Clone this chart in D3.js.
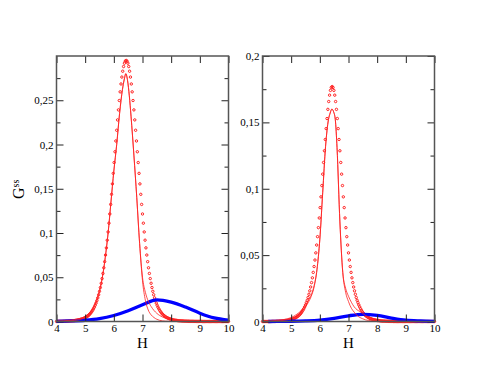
<!DOCTYPE html>
<html>
<head>
<meta charset="utf-8">
<script src="https://cdn.jsdelivr.net/npm/d3@7"></script>
<style>
body { margin: 0; background: #fff; }
svg text { font-family: "Liberation Serif", "Times New Roman", serif !important; }
</style>
</head>
<body>
<svg id="chart" width="491" height="379"></svg>
<script>
// circles are sampled on a regular H grid: 4, 4.03, 4.06 ... 10
var hCircStart = 4, hCircStep = 0.03;

var gssCircL = [
  .0001,.0001,.0001,.0002,.0002,.0002,.0002,.0002,.0003,.0003,
  .0003,.0004,.0004,.0004,.0005,.0006,.0006,.0007,.0008,.0008,
  .0009,.0010,.0012,.0013,.0014,.0016,.0018,.0020,.0023,.0026,
  .0029,.0032,.0037,.0041,.0046,.0052,.0059,.0067,.0076,.0086,
  .0098,.0111,.0126,.0143,.0162,.0184,.0208,.0236,.0267,.0302,
  .0341,.0384,.0432,.0485,.0543,.0607,.0676,.0751,.0832,.0919,
  .1012,.1111,.1215,.1323,.1437,.1555,.1674,.1796,.1918,.2040,
  .2161,.2278,.2391,.2497,.2595,.2684,.2762,.2828,.2881,.2919,
  .2942,.2950,.2942,.2919,.2881,.2828,.2762,.2684,.2595,.2497,
  .2391,.2278,.2161,.2040,.1918,.1796,.1674,.1555,.1437,.1323,
  .1215,.1111,.1012,.0919,.0832,.0751,.0676,.0607,.0543,.0485,
  .0432,.0384,.0341,.0302,.0267,.0236,.0208,.0184,.0162,.0143,
  .0126,.0111,.0098,.0086,.0076,.0067,.0059,.0052,.0046,.0041,
  .0037,.0032,.0029,.0026,.0023,.0020,.0018,.0016,.0014,.0013,
  .0012,.0010,.0009,.0008,.0008,.0007,.0006,.0006,.0005,.0004,
  .0004,.0004,.0003,.0003,.0003,.0002,.0002,.0002,.0002,.0002,
  .0001,.0001,.0001,.0001,.0001,.0001,.0001,.0001,.0001,.0001,
  0,0,0,0,0,0,0,0,0,0,
  0,0,0,0,0,0,0,0,0,0,
  0,0,0,0,0,0,0,0,0,0,
  0
];

var gssCircR = [
  0,0,0,0,0,0,0,0,0,0,
  0,.0001,.0001,.0001,.0001,.0001,.0002,.0002,.0002,.0002,
  .0003,.0003,.0003,.0004,.0004,.0005,.0006,.0007,.0007,.0008,
  .0010,.0011,.0012,.0014,.0016,.0018,.0021,.0023,.0027,.0030,
  .0034,.0039,.0044,.0050,.0057,.0065,.0074,.0085,.0096,.0110,
  .0125,.0142,.0160,.0181,.0205,.0231,.0260,.0293,.0329,.0370,
  .0414,.0463,.0517,.0576,.0639,.0707,.0780,.0858,.0939,.1024,
  .1110,.1198,.1286,.1371,.1453,.1529,.1598,.1657,.1705,.1741,
  .1763,.1770,.1763,.1741,.1705,.1657,.1598,.1529,.1453,.1371,
  .1286,.1198,.1110,.1024,.0939,.0858,.0780,.0707,.0639,.0576,
  .0517,.0463,.0414,.0370,.0329,.0293,.0260,.0231,.0205,.0181,
  .0160,.0142,.0125,.0110,.0096,.0085,.0074,.0065,.0057,.0050,
  .0044,.0039,.0034,.0030,.0027,.0023,.0021,.0018,.0016,.0014,
  .0012,.0011,.0010,.0008,.0007,.0007,.0006,.0005,.0004,.0004,
  .0003,.0003,.0003,.0002,.0002,.0002,.0002,.0001,.0001,.0001,
  .0001,.0001,0,0,0,0,0,0,0,0,
  0,0,0,0,0,0,0,0,0,0,
  0,0,0,0,0,0,0,0,0,0,
  0,0,0,0,0,0,0,0,0,0,
  0,0,0,0,0,0,0,0,0,0,
  0
];

// thin red curves
var hLine = [4, 4.25, 4.5, 4.75, 5, 5.2, 5.4, 5.5, 5.6, 5.7, 5.8, 5.9, 6, 6.1, 6.2, 6.3, 6.36, 6.42, 6.48, 6.54,
             6.6, 6.7, 6.8, 6.9, 7, 7.1, 7.2, 7.3, 7.4, 7.5, 7.6, 7.7, 7.8, 8, 8.25, 8.5, 9, 9.5, 10];

var gssLineAL = [.0002, .0004, .0008, .0018, .0045, .010, .023, .034, .050, .072, .100, .135, .170, .200, .235, .262, .273, .280, .272, .255,
                 .232, .188, .140, .088, .046, .024, .013, .0075, .0045, .0025, .0013, .0007, .0004, .0002, .0001, 0, 0, 0, 0];
var gssLineBL = [.0004, .0008, .0015, .003, .006, .012, .025, .035, .050, .072, .100, .135, .170, .200, .235, .262, .273, .280, .272, .255,
                 .232, .188, .140, .088, .050, .033, .023, .017, .0125, .0092, .0068, .005, .0037, .002, .001, .0005, .0002, .0001, 0];
var gssLineAR = [.0001, .0002, .0004, .0009, .002, .0042, .0085, .011, .0145, .019, .026, .039, .062, .097, .132, .152, .157, .160, .158, .152,
                 .131, .075, .037, .022, .015, .010, .007, .0045, .003, .002, .0012, .0008, .0005, .0002, .0001, 0, 0, 0, 0];
var gssLineBR = [.0002, .0004, .0008, .0015, .003, .0055, .0095, .0125, .016, .020, .027, .039, .062, .097, .132, .152, .157, .160, .158, .152,
                 .131, .075, .037, .025, .019, .0145, .011, .0088, .0075, .006, .0045, .0034, .0025, .0013, .0006, .0003, .0001, 0, 0];

// thick blue curves
var hBlueL = [4, 4.5, 5, 5.5, 6, 6.5, 7, 7.5, 8, 8.5, 9, 9.5, 10];
var gssBlueL = [.0002, .0006, .0014, .0032, .0068, .0122, .0189, .0244, .0218, .0163, .0094, .0040, .0015];
var hBlueR = [4.2, 4.5, 5, 5.5, 6, 6.5, 7, 7.5, 8, 8.5, 9, 9.5, 10];
var gssBlueR = [0, .0001, .0002, .0005, .0011, .0024, .0043, .0054, .0046, .0026, .0010, .0004, .0001];

var xTicks = [4, 5, 6, 7, 8, 9, 10];
var xTickLabels = ["4", "5", "6", "7", "8", "9", "10"];
var yTicksL = [0, 0.05, 0.1, 0.15, 0.2, 0.25];
var yTickLabelsL = ["0", "0,05", "0,1", "0,15", "0,2", "0,25"];
var yMinorL = [0.025, 0.075, 0.125, 0.175, 0.225, 0.275];
var yTicksR = [0, 0.05, 0.1, 0.15, 0.2];
var yTickLabelsR = ["0", "0,05", "0,1", "0,15", "0,2"];
var yMinorR = [0.025, 0.075, 0.125, 0.175];

var serif = "'Liberation Serif', 'Times New Roman', serif";
var svg = d3.select("#chart");

function drawPanel(p) {
  var x = d3.scaleLinear().domain([4, 10]).range([p.left, p.right]);
  var y = d3.scaleLinear().domain([0, p.ymax]).range([p.bottom, p.top]);
  var g = svg.append("g");

  var line = d3.line().curve(d3.curveMonotoneX);

  // circles
  g.append("g").selectAll("circle")
    .data(p.circ)
    .enter().append("circle")
    .attr("cx", function(d, i) { return x(hCircStart + i * hCircStep); })
    .attr("cy", function(d) { return y(d); })
    .attr("r", 1.2)
    .attr("fill", "none")
    .attr("stroke", "#ff2020")
    .attr("stroke-width", 1);

  // blue
  g.append("path")
    .attr("d", line(p.hBlue.map(function(h, i) { return [x(h), y(p.blue[i])]; })))
    .attr("fill", "none")
    .attr("stroke", "#0000ff")
    .attr("stroke-width", 3.3);

  // red lines
  [p.lineA, p.lineB].forEach(function(vals) {
    g.append("path")
      .attr("d", line(hLine.map(function(h, i) { return [x(h), y(vals[i])]; })))
      .attr("fill", "none")
      .attr("stroke", "#ff2020")
      .attr("stroke-width", 0.8);
  });

  function style(a) {
    a.select(".domain").remove();
    a.attr("font-size", 11).attr("font-family", serif).attr("color", "#222");
    a.selectAll("text").style("font-family", serif).attr("fill", "#000");
  }

  g.append("g").attr("transform", "translate(0," + p.bottom + ")")
    .call(d3.axisBottom(x).tickValues(xTicks).tickFormat(function(d, i) { return xTickLabels[i]; }).tickSize(-7).tickPadding(3))
    .call(style);
  g.append("g").attr("transform", "translate(0," + p.top + ")")
    .call(d3.axisTop(x).tickValues(xTicks).tickFormat("").tickSize(-7))
    .call(style);
  g.append("g").attr("transform", "translate(" + p.left + ",0)")
    .call(d3.axisLeft(y).tickValues(p.yTicks).tickFormat(function(d, i) { return p.yLabels[i]; }).tickSize(-7).tickPadding(3))
    .call(style);
  g.append("g").attr("transform", "translate(" + p.left + ",0)")
    .call(d3.axisLeft(y).tickValues(p.yMinor).tickFormat("").tickSize(-4))
    .call(style);
  g.append("g").attr("transform", "translate(" + p.right + ",0)")
    .call(d3.axisRight(y).tickValues(p.yTicks).tickFormat("").tickSize(-7))
    .call(style);
  g.append("g").attr("transform", "translate(" + p.right + ",0)")
    .call(d3.axisRight(y).tickValues(p.yMinor).tickFormat("").tickSize(-4))
    .call(style);

  // frame
  g.append("rect")
    .attr("x", p.left).attr("y", p.top)
    .attr("width", p.right - p.left).attr("height", p.bottom - p.top)
    .attr("fill", "none").attr("stroke", "#555").attr("stroke-width", 1.5);

  g.append("text")
    .attr("x", (p.left + p.right) / 2).attr("y", 348)
    .attr("text-anchor", "middle").attr("font-size", 15)
    .style("font-family", serif)
    .text("H");
}

drawPanel({left: 56.5, right: 228.5, top: 56, bottom: 321.5, ymax: 0.3,
  circ: gssCircL, lineA: gssLineAL, lineB: gssLineBL, hBlue: hBlueL, blue: gssBlueL,
  yTicks: yTicksL, yLabels: yTickLabelsL, yMinor: yMinorL});
drawPanel({left: 262.5, right: 434.5, top: 56, bottom: 321.5, ymax: 0.2,
  circ: gssCircR, lineA: gssLineAR, lineB: gssLineBR, hBlue: hBlueR, blue: gssBlueR,
  yTicks: yTicksR, yLabels: yTickLabelsR, yMinor: yMinorR});

var yTitle = svg.append("text")
  .attr("transform", "translate(24,199) rotate(-90)")
  .attr("font-size", 16)
  .style("font-family", serif);
yTitle.append("tspan").text("G");
yTitle.append("tspan").attr("font-size", 10).attr("dy", -5.5).text("ss");
</script>
</body>
</html>
